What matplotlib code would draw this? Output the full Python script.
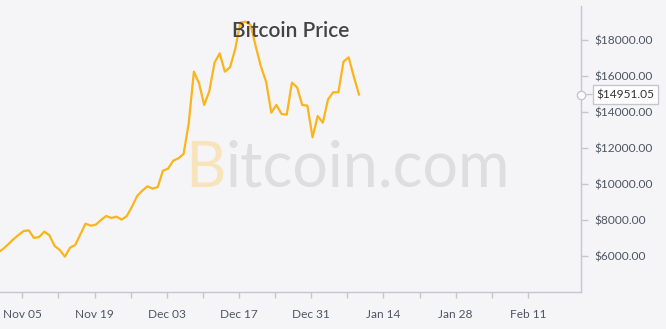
import numpy as np
import pandas as pd
import matplotlib
matplotlib.use('Agg')
import matplotlib.pyplot as plt
import matplotlib.dates as mdates
from matplotlib.ticker import FuncFormatter

plt.rcParams['font.family'] = ['Lato', 'DejaVu Sans']

# daily prices, Oct 31 2017 .. Jan 09 2018
dates = pd.date_range('2017-10-31 06:00', '2018-01-09 06:00', freq='D')
prices = [
    6180,
    6372, 6632, 6909, 7150, 7372, 7409, 6983, 7039, 7335, 7131,
    6539, 6317, 5946, 6446, 6594, 7187, 7780, 7668, 7724, 7983,
    8206, 8094, 8168, 8002, 8206, 8724, 9317, 9613, 9854, 9724,
    9817, 10724, 10835, 11280, 11409, 11650, 13356, 16224, 15576, 14372,
    15150, 16724, 17243, 16224, 16465, 17465, 18950, 19000, 18817, 17613,
    16502, 15668, 13946, 14372, 13872, 13835, 15613, 15354, 14372, 14335,
    12576,
    13761, 13391, 14687, 15076, 15076, 16780, 17020, 15946, 14951.05,
]
label_dates = pd.date_range('2017-11-05', periods=8, freq='14D')
week_dates = pd.date_range('2017-11-12', periods=7, freq='14D')
y_ticks = [6000, 8000, 10000, 12000, 14000, 16000, 18000]

bg = '#f5f5f8'
line_color = '#fbb41a'
axis_color = '#c6c7cc'
text_color = '#505462'

fig = plt.figure(figsize=(6.66, 3.29), dpi=100, facecolor=bg)
ax = fig.add_axes([0.0, 0.1125, 0.8724, 0.8693], facecolor=bg)

ax.plot(dates, prices, color=line_color, lw=1.6, zorder=2)

ax.set_xlim(pd.Timestamp('2017-10-31 16:00'), pd.Timestamp('2018-02-21 07:00'))
ax.set_ylim(3983, 19872)

# axes styling
for s in ['left', 'top']:
    ax.spines[s].set_visible(False)
for s in ['right', 'bottom']:
    ax.spines[s].set_color(axis_color)
    ax.spines[s].set_linewidth(1.0)

ax.yaxis.tick_right()
ax.set_yticks(y_ticks)
ax.yaxis.set_major_formatter(FuncFormatter(lambda v, p: f'${v:.2f}'))
ax.set_xticks(label_dates)
ax.set_xticks(week_dates, minor=True)
ax.xaxis.set_major_formatter(mdates.DateFormatter('%b %d'))
ax.tick_params(axis='x', which='both', direction='out', length=4, width=1,
               color=axis_color, labelsize=8.6, labelcolor=text_color, pad=8)
ax.tick_params(axis='y', direction='out', length=5, width=1,
               color=axis_color, labelsize=8.6, labelcolor=text_color, pad=5)

# title
t = ax.set_title('Bitcoin Price', fontsize=15, color='#444444', pad=-22, y=1.0,
                 fontweight='semibold')
t.set_zorder(6)

# watermark
wm = ax.text(0.318, 0.368, 'B', transform=ax.transAxes, fontsize=45,
             color='#f9e3bb', ha='left', va='baseline', zorder=1)
ax.annotate('itcoin.com', xy=(1, 0), xycoords=wm, fontsize=45,
            color='#dedee0', ha='left', va='bottom', zorder=1)

# last value marker and label
last = prices[-1]
ax.plot([1.0], [last], transform=ax.get_yaxis_transform(), marker='o',
        ms=6, mfc='white', mec=axis_color, mew=1, clip_on=False, zorder=5)
ax.annotate(f'${last:.2f}', xy=(1.0, last), xycoords=ax.get_yaxis_transform(),
            xytext=(11, 0), textcoords='offset points', ha='left', va='center',
            fontsize=8.6, color='#333333', annotation_clip=False,
            bbox=dict(boxstyle='square,pad=0.3', fc='white', ec=axis_color, lw=1),
            arrowprops=dict(arrowstyle='-', color=axis_color, lw=1,
                            shrinkA=0, shrinkB=3))

fig.savefig('out.png', dpi=100, facecolor=bg)
